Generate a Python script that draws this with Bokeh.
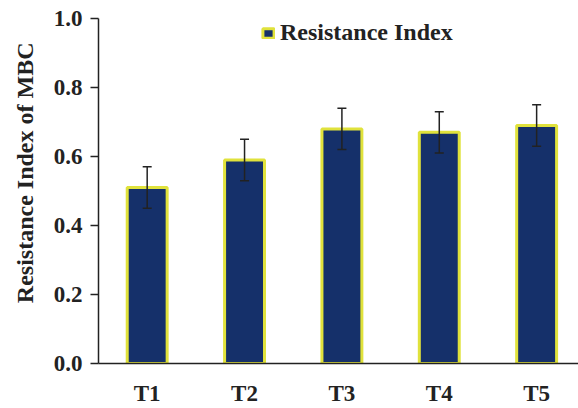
from bokeh.plotting import figure
from bokeh.models import ColumnDataSource, Whisker, TeeHead, Legend, LegendItem, Title, FixedTicker
from bokeh.embed import file_html
from bokeh.resources import INLINE

# Treatments, mean resistance index of MBC and standard error
treatments = ["T1", "T2", "T3", "T4", "T5"]
resistance = [0.51, 0.59, 0.68, 0.67, 0.69]
errors = [0.06, 0.06, 0.06, 0.06, 0.06]
y_ticks = [0.0, 0.2, 0.4, 0.6, 0.8, 1.0]

positions = list(range(1, len(treatments) + 1))
source = ColumnDataSource(dict(
    x=positions,
    top=resistance,
    upper=[v + e for v, e in zip(resistance, errors)],
    lower=[v - e for v, e in zip(resistance, errors)],
))

FONT = "Liberation Serif"
INK = "#222222"
NAVY = "#15306A"
YELLOW = "#E0E23C"

p = figure(width=578, height=408, output_backend="svg", toolbar_location=None,
           x_range=(0.5, 5.43), y_range=(0, 1.0),
           min_border_left=98, min_border_right=0, min_border_top=18, min_border_bottom=44)
p.outline_line_color = None
p.grid.grid_line_color = None
p.background_fill_color = "white"

bars = p.vbar(x="x", top="top", width=0.41, source=source,
              fill_color=NAVY, line_color=YELLOW, line_width=3)

whisker = Whisker(base="x", upper="upper", lower="lower", source=source,
                  line_color=INK, line_width=1.5, level="overlay",
                  upper_head=TeeHead(size=9, line_color=INK, line_width=1.5),
                  lower_head=TeeHead(size=9, line_color=INK, line_width=1.5))
p.add_layout(whisker)

# y axis
p.yaxis.ticker = FixedTicker(ticks=y_ticks)
p.yaxis.major_label_overrides = {t: f"{t:.1f}" for t in y_ticks}
p.yaxis.major_tick_out = 8
p.yaxis.major_tick_in = 0
p.yaxis.minor_tick_line_color = None
p.yaxis.major_label_standoff = 8
p.yaxis.major_label_text_font = FONT
p.yaxis.major_label_text_font_style = "bold"
p.yaxis.major_label_text_font_size = "23px"
p.yaxis.major_label_text_color = INK
p.yaxis.axis_line_color = INK
p.yaxis.major_tick_line_color = INK
p.yaxis.axis_line_width = 1.5
p.yaxis.major_tick_line_width = 1.5

# x axis
p.xaxis.ticker = FixedTicker(ticks=positions)
p.xaxis.major_label_overrides = {i: t for i, t in zip(positions, treatments)}
p.xaxis.major_tick_out = 0
p.xaxis.major_tick_in = 0
p.xaxis.minor_tick_line_color = None
p.xaxis.major_label_standoff = 17
p.xaxis.major_label_text_font = FONT
p.xaxis.major_label_text_font_style = "bold"
p.xaxis.major_label_text_font_size = "23px"
p.xaxis.major_label_text_color = INK
p.xaxis.axis_line_color = INK
p.xaxis.axis_line_width = 1.5

# y axis title, placed toward the top of the axis and the outer edge
ytitle = Title(text="Resistance Index of MBC", align="right", offset=24,
               vertical_align="top", standoff=22,
               text_font=FONT, text_font_style="bold", text_font_size="24px",
               text_color=INK)
p.add_layout(ytitle, "left")

legend = Legend(items=[LegendItem(label="Resistance Index", renderers=[bars])],
                location=(163, 317), orientation="vertical",
                padding=0, margin=0, spacing=0,
                glyph_width=14, glyph_height=12, label_standoff=5,
                label_text_font=FONT, label_text_font_style="bold",
                label_text_font_size="24px", label_text_color=INK,
                border_line_color=None, background_fill_alpha=0)
p.add_layout(legend)

open("out.html", "w").write(file_html(p, INLINE))
